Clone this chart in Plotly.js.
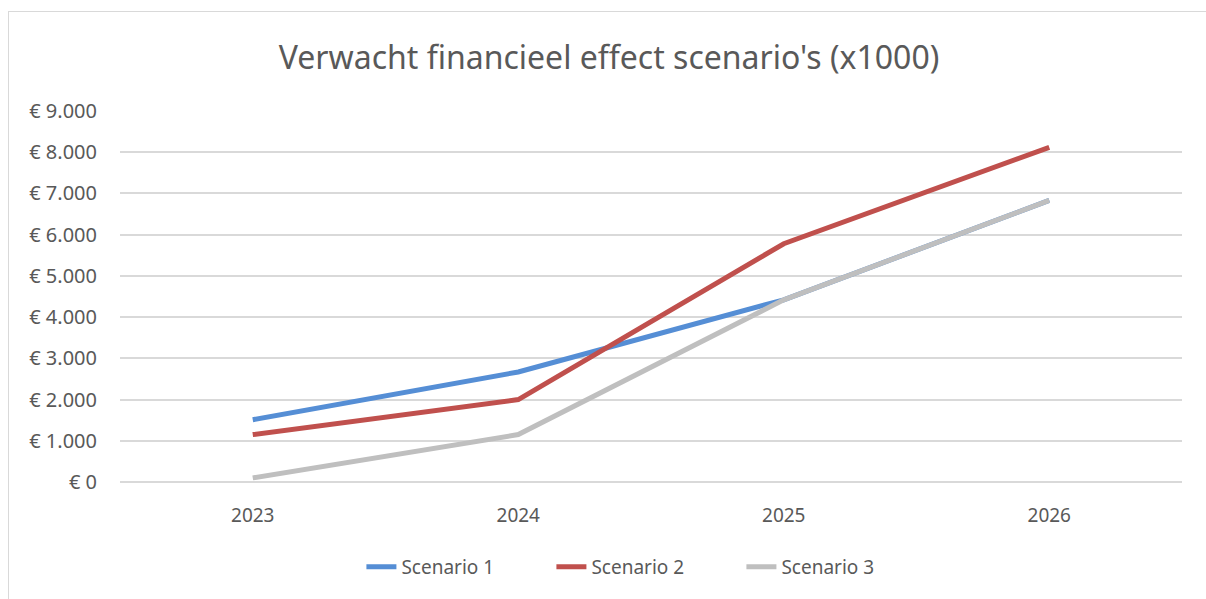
<!DOCTYPE html>
<html>
<head>
<meta charset="utf-8">
<script src="https://cdn.plot.ly/plotly-3.0.1.min.js"></script>
<style>
html,body{margin:0;padding:0;background:#fff;}
#wrap{position:absolute;left:0;top:0;width:1206px;height:599px;}
#frame{position:absolute;left:8px;top:11px;width:1220px;height:620px;border-left:1px solid #d9d9d9;border-top:1px solid #d9d9d9;pointer-events:none;}
#chart{position:absolute;left:0;top:0;width:1206px;height:599px;}
</style>
</head>
<body>
<div id="wrap"><div id="chart"></div><div id="frame"></div></div>
<script>
const years = ['2023', '2024', '2025', '2026'];
const scenario1 = [1510, 2670, 4420, 6830];
const scenario2 = [1150, 2000, 5780, 8120];
const scenario3 = [100, 1150, 4420, 6830];
const seriesNames = ['Scenario 1', 'Scenario 2', 'Scenario 3'];
const seriesColors = ['#558ED5', '#C0504D', '#BFBFBF'];
const yTicks = [0, 1000, 2000, 3000, 4000, 5000, 6000, 7000, 8000, 9000];
const yTickText = ['€ 0', '€ 1.000', '€ 2.000', '€ 3.000', '€ 4.000', '€ 5.000', '€ 6.000', '€ 7.000', '€ 8.000', '€ 9.000'];

const FONT = 'Noto Sans, sans-serif';
const series = [scenario1, scenario2, scenario3];
const traces = series.map((vals, i) => ({
  type: 'scatter',
  mode: 'lines',
  x: years,
  y: vals,
  name: seriesNames[i],
  line: {color: seriesColors[i], width: 5},
  hoverinfo: 'x+y+name'
}));

const layout = {
  width: 1206,
  height: 599,
  paper_bgcolor: 'rgba(0,0,0,0)',
  plot_bgcolor: 'rgba(0,0,0,0)',
  margin: {l: 120, r: 24, t: 111, b: 117},
  font: {family: FONT, color: '#595959', size: 19},
  title: {
    text: "Verwacht financieel effect scenario's (x1000)",
    font: {family: FONT, size: 32, color: '#595959'},
    x: 0.505, xref: 'container', xanchor: 'center',
    y: 1 - 58/599, yref: 'container', yanchor: 'middle'
  },
  xaxis: {
    type: 'category',
    range: [-0.5, 3.5],
    showgrid: false,
    showline: false,
    zeroline: false,
    ticks: '',
    ticklabelstandoff: 20,
    tickfont: {family: FONT, size: 19, color: '#595959'}
  },
  yaxis: {
    range: [0, 9000],
    tickvals: yTicks,
    ticktext: yTickText,
    showgrid: true,
    gridcolor: '#d9d9d9',
    gridwidth: 1.5,
    zeroline: true,
    zerolinecolor: '#d9d9d9',
    zerolinewidth: 1.5,
    showline: false,
    ticks: '',
    ticklabelstandoff: 22,
    tickfont: {family: FONT, size: 20, color: '#595959'}
  },
  showlegend: true,
  legend: {
    orientation: 'h',
    xref: 'container', x: 0.536, xanchor: 'center',
    yref: 'container', y: 32/599, yanchor: 'middle',
    font: {family: FONT, size: 19, color: '#595959'},
    itemwidth: 30,
    entrywidth: 145,
    tracegroupgap: 0,
    bgcolor: 'rgba(0,0,0,0)'
  },
  hovermode: 'closest'
};

Plotly.newPlot('chart', traces, layout, {displayModeBar: false, staticPlot: false});
</script>
</body>
</html>
